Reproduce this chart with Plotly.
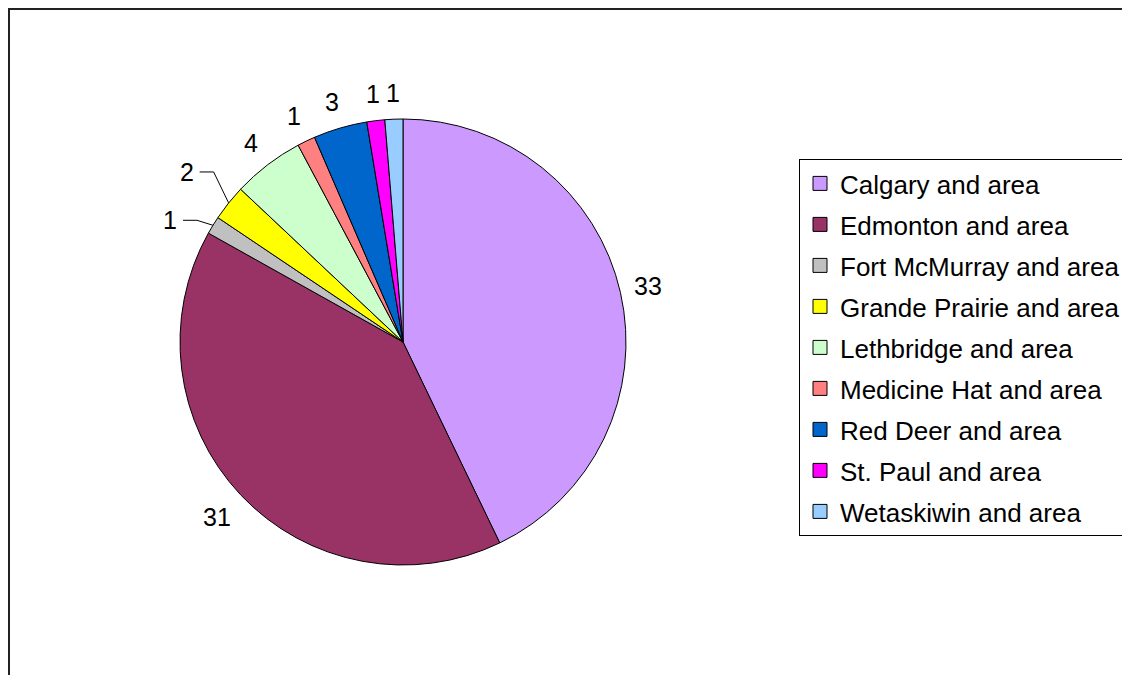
import math
import plotly.graph_objects as go

regions = [
    "Calgary and area",
    "Edmonton and area",
    "Fort McMurray and area",
    "Grande Prairie and area",
    "Lethbridge and area",
    "Medicine Hat and area",
    "Red Deer and area",
    "St. Paul and area",
    "Wetaskiwin and area",
]
counts = [33, 31, 1, 2, 4, 1, 3, 1, 1]
colors = ["#CC99FF", "#993366", "#C0C0C0", "#FFFF00", "#CCFFCC",
          "#FF8080", "#0066CC", "#FF00FF", "#99CCFF"]

FONT = "Arial, Liberation Sans, sans-serif"
FS = 25
W, H = 1130, 675
cx, cy, r = 395, 334, 223          # pie centre / radius in pixels
# labels that are moved away and joined to their slice by a leader line
leader_shift = {2: (-43, -5), 3: (-42, -31)}

fig = go.Figure()
fig.add_trace(go.Pie(
    labels=regions, values=counts, sort=False, direction="clockwise",
    rotation=0,
    marker=dict(colors=colors, line=dict(color="black", width=1)),
    textinfo="none", showlegend=False, hoverinfo="label+value",
    domain=dict(x=[(cx - r) / W, (cx + r) / W],
                y=[(H - cy - r) / H, (H - cy + r) / H]),
))

# value labels placed around the pie from each slice's mid-angle
annotations = []
total = sum(counts)
cum = 0
for i, v in enumerate(counts):
    mid = (cum + v / 2) / total * 2 * math.pi
    cum += v
    sx, sy = math.sin(mid), -math.cos(mid)
    half_w = 0.28 * FS * len(str(v))
    half_h = 14
    if i in leader_shift:
        px, py = cx + r * sx, cy + r * sy
        tx, ty = px + leader_shift[i][0], py + leader_shift[i][1]
        fig.add_trace(go.Scatter(
            x=[px, tx + 27, tx + 13], y=[py, ty, ty], mode="lines",
            line=dict(color="black", width=1), showlegend=False,
            hoverinfo="skip"))
    else:
        d = 12 + half_w * abs(sx) + half_h * abs(sy)
        tx, ty = cx + (r + d) * sx, cy + (r + d) * sy
    annotations.append(dict(
        x=tx, y=ty, xref="x", yref="y", text=str(v), showarrow=False,
        xanchor="center", yanchor="middle",
        font=dict(family=FONT, size=FS, color="black")))

for i, (name, col) in enumerate(zip(regions, colors)):
    fig.add_trace(go.Scatter(
        x=[None], y=[None], mode="markers", name=name, legendgroup=str(i),
        marker=dict(symbol="square", size=14, color=col,
                    line=dict(color="black", width=1)),
        hoverinfo="skip",
    ))

fig.update_layout(
    width=W, height=H,
    margin=dict(l=0, r=0, t=0, b=0),
    paper_bgcolor="white", plot_bgcolor="rgba(0,0,0,0)",
    xaxis=dict(visible=False, range=[0, W], domain=[0, 1], fixedrange=True),
    yaxis=dict(visible=False, range=[H, 0], domain=[0, 1], fixedrange=True),
    font=dict(family=FONT, size=FS, color="black"),
    annotations=annotations,
    legend=dict(
        x=791 / W, y=1 - 151 / H, xanchor="left", yanchor="top",
        bordercolor="black", borderwidth=1, bgcolor="white",
        font=dict(family=FONT, size=26, color="black"),
        traceorder="grouped", tracegroupgap=4.2, itemwidth=30,
    ),
    shapes=[dict(type="rect", xref="paper", yref="paper",
                 x0=1 / W, x1=1.1, y0=-0.1, y1=1 - 1 / H,
                 line=dict(color="#222222", width=2))],
)
fig.write_html("out.html")
